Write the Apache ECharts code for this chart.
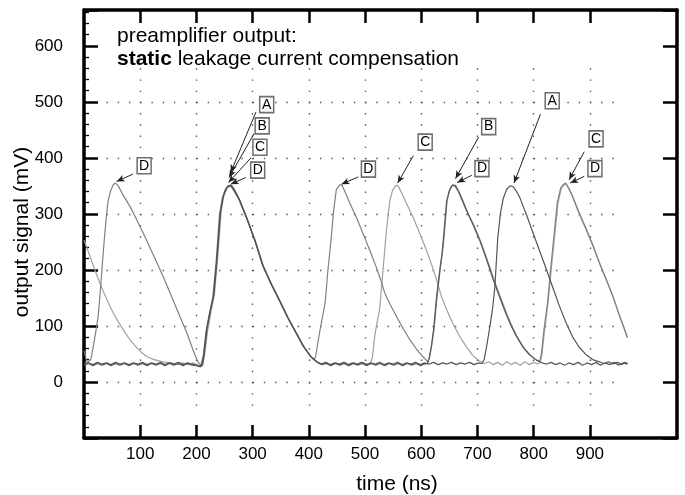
<!DOCTYPE html>
<html><head><meta charset="utf-8">
<script src="https://cdn.jsdelivr.net/npm/echarts@6/dist/echarts.min.js"></script>
<style>html,body{margin:0;padding:0;background:#fff}#c{width:685px;height:495px}</style>
</head><body><div id="c"></div>
<script>
// ---- data (time in ns, signal in mV) ----
const xTickLabels = [100, 200, 300, 400, 500, 600, 700, 800, 900];
const yTickLabels = [0, 100, 200, 300, 400, 500, 600];

const traceA = [[0,32],[8,34],[16,31],[24,35],[32,32],[40,34],[48,31],[56,35],[64,32],[72,34],[80,31],[88,34],[96,32],[104,35],[112,31],[120,34],[128,32],[136,35],[144,31],[152,34],[160,32],[168,35],[176,31],[184,34],[192,32],[200,30],[206,28],[210,32],
[213,48],[218,92],[224,124],[230,152],[236,216],[242,300],[247,330],[252,344],[257,350],[262,349],
[268,340],[276,326],[290,291],[304,253],[318,208],[333,175],[348,145],[363,114],[378,86],[390,64],[402,47],[414,36],[422,32],
[430,35],[438,31],[446,34],[454,32],[462,35],[470,31],[478,34],[486,32],[494,35],[502,31],[510,34],[518,32],[526,35],[534,31],[542,34],[550,32],[558,35],[566,31],[574,34],[582,32],[590,35],[598,31],[606,34],[614,32],[622,35],[630,31],[638,34],[646,32],[654,35],[662,31],[670,34],[678,32],[686,35],[694,31],[702,34],[708,33],
[712,40],[716,62],[722,98],[727,132],[731,170],[736,256],[741,302],[746,328],[752,344],[758,350],[763,349],
[769,341],[775,330],[787,299],[799,266],[811,233],[823,200],[835,166],[846,135],[858,105],[869,81],[881,62],[894,48],[905,40],[917,36],[925,33],[933,36],[941,32],[949,35],[957,31],[963,35],[967,33]];

const traceB = [[0,30],[8,33],[16,29],[24,33],[32,30],[40,33],[48,29],[56,33],[64,30],[72,33],[80,29],[88,33],[96,30],[104,33],[112,29],[120,33],[128,30],[136,33],[144,29],[152,33],[160,30],[168,33],[176,29],[184,33],[192,30],[200,29],[207,27],[211,30],
[214,50],[219,95],[225,128],[231,155],[237,222],[243,304],[248,332],[253,345],[258,351],[263,350],
[269,341],[277,325],[291,289],[305,250],[319,206],[334,173],[349,143],[364,112],[379,85],[391,63],[403,46],[415,35],[423,31],
[431,33],[439,29],[447,33],[455,30],[463,33],[471,29],[479,33],[487,30],[495,33],[503,29],[511,33],[519,30],[527,33],[535,29],[543,33],[551,30],[559,33],[567,29],[575,33],[583,30],[591,33],[599,29],[605,32],[611,33],
[614,42],[618,64],[622,94],[627,150],[633,200],[637,230],[640,262],[645,322],[650,342],[655,351],[660,350],
[666,340],[672,326],[680,307],[692,281],[704,253],[716,219],[728,183],[740,150],[751,121],[760,100],[769,82],[781,62],[793,48],[805,39],[815,34],
[823,32],[831,35],[839,31],[847,34],[855,30],[863,34],[871,31],[879,35],[887,30],[895,34],[903,31],[911,35],[919,30],[927,34],[935,31],[943,35],[951,30],[959,34],[967,32]];

const traceC = [[0,253],[5,240],[10,226],[15,212],[20,198],[28,177],[36,158],[44,140],[52,123],[60,109],[70,93],[82,75],[92,63],[102,53],[112,45],[125,40],[140,36],[155,34],[165,31],[175,34],[185,31],[195,34],[203,30],[210,29],
[214,45],[220,92],[226,126],[232,156],[238,225],[244,305],[249,333],[254,345],[259,350],[264,348],
[270,338],[278,322],[292,287],[306,248],[320,205],[335,172],[350,142],[365,111],[380,84],[392,62],[404,45],[416,35],[424,32],
[432,34],[440,30],[448,34],[456,31],[464,35],[472,30],[480,34],[488,31],[496,35],[504,31],[510,33],
[513,44],[517,80],[521,104],[526,130],[532,200],[538,270],[544,324],[549,342],[554,350],[558,351],
[565,338],[574,318],[586,293],[597,266],[609,236],[620,205],[628,180],[636,152],[646,127],[656,105],[668,82],[680,63],[692,47],[704,37],
[712,33],[720,36],[728,31],[736,35],[744,30],[752,36],[760,31],[768,35],[776,30],[784,36],[792,31],[800,35],[808,32],[812,36],
[815,50],[818,80],[822,112],[826,145],[831,198],[837,258],[843,318],[849,345],[854,352],[858,353],
[864,343],[869,331],[881,300],[894,270],[906,241],[917,212],[929,182],[941,152],[953,117],[960,98],[966,80]];

const traceD = [[0,56],[3,44],[6,35],[9,34],[12,40],[15,55],[18,72],[21,90],[25,116],[28,150],[31,188],[34,228],[37,265],[40,298],[43,324],[47,340],[52,352],[56,355],[61,350],
[70,333],[82,313],[96,285],[111,254],[126,221],[141,188],[156,152],[171,116],[183,88],[194,57],[200,42],[204,34],[208,30],
[212,46],[217,90],[223,122],[229,150],[235,214],[241,298],[246,328],[251,342],[256,350],[261,351],
[267,341],[275,327],[289,293],[303,255],[317,211],[332,177],[347,147],[362,116],[377,88],[389,66],[401,49],[409,39],
[412,45],[416,70],[420,93],[425,120],[429,141],[434,200],[440,259],[444,305],[449,344],[455,352],[459,351],
[466,336],[473,319],[485,293],[496,266],[508,236],[520,205],[528,182],[535,159],[545,138],[556,117],[568,95],[580,75],[592,58],[603,45],[612,36],
[615,45],[619,68],[623,96],[628,152],[634,204],[638,234],[641,264],[646,324],[651,344],[656,352],[661,351],
[668,338],[674,324],[682,304],[694,279],[706,250],[718,216],[730,181],[742,148],[753,119],[762,98],[771,80],[783,60],[795,47],[805,39],[811,37],
[814,52],[817,82],[821,114],[825,144],[830,200],[836,260],[842,320],[848,346],[853,353],[857,355],
[863,345],[869,332],[881,302],[894,272],[906,243],[917,213],[929,184],[941,153],[953,118],[960,99],[967,79]];

// annotation letters: box centre, arrow from -> to (data coords)
const annLetters = ['A','B','C','D','D','D','C','B','D','A','C','D'];
const annBoxes   = [[325,495],[317,457],[313,419],[309,378],[107,386],[506,380],[607,428],[720,456],[708,381],[833,502],[911,434],[909,381]];
const annFrom    = [[306,482],[303,444],[297,400],[288,365],[87,371],[488,366],[586,404],[702,437],[690,369],[812,478],[890,411],[890,367]];
const annTo      = [[261,374],[258,365],[257,356],[261,353],[58,358],[458,353],[558,355],[661,363],[664,356],[765,355],[863,361],[865,355]];

// ---- layout ----
const FONT = 'Liberation Sans, Arial, sans-serif';
const X_MIN = 0, X_MAX = 1055, Y_MIN = -100, Y_MAX = 664;
const G = {left: 84, top: 10, width: 593, height: 428};
const pxPerNs = G.width / (X_MAX - X_MIN);
const pxPerMv = G.height / (Y_MAX - Y_MIN);
const xPx = t => G.left + (t - X_MIN) * pxPerNs;
const yPx = v => G.top + (Y_MAX - v) * pxPerMv;

const frame = {show: true, onZero: false, lineStyle: {color: '#000', width: 3.5}};
const dotH = [1.4, 20 * pxPerNs - 1.4];
const dotV = [1.4, 20 * pxPerMv - 1.4];
const hidden = {axisLine: {show: false}, axisTick: {show: false}, axisLabel: {show: false}};

const chart = echarts.init(document.getElementById('c'), null, {renderer: 'canvas'});
chart.setOption({
  animation: false,
  backgroundColor: '#fff',
  title: [
    {text: 'preamplifier output:', left: 117, top: 26, padding: 0,
     textStyle: {fontFamily: FONT, fontSize: 21, fontWeight: 'normal', color: '#000'}},
    {text: '{b|static} leakage current compensation', left: 117, top: 49, padding: 0,
     textStyle: {fontFamily: FONT, fontSize: 21, fontWeight: 'normal', color: '#000',
       rich: {b: {fontFamily: FONT, fontSize: 21, fontWeight: 'bold', color: '#000'}}}}
  ],
  grid: [
    {left: G.left, top: G.top, width: G.width, height: G.height, outerBoundsMode: 'none'},
    {left: xPx(40), top: yPx(500), width: xPx(960) - xPx(40), height: yPx(-100) - yPx(500), outerBoundsMode: 'none'},
    {left: xPx(0), top: yPx(560), width: xPx(1000) - xPx(0), height: yPx(-60) - yPx(560), outerBoundsMode: 'none'}
  ],
  xAxis: [
    {gridIndex: 0, type: 'value', min: X_MIN, max: X_MAX, interval: 100, position: 'bottom',
     axisLine: frame,
     axisTick: {inside: true, length: 13, customValues: xTickLabels, lineStyle: {color: '#000', width: 2.5}},
     axisLabel: {customValues: xTickLabels, fontFamily: FONT, fontSize: 17, color: '#000', margin: 8},
     splitLine: {show: false}},
    {gridIndex: 0, type: 'value', min: X_MIN, max: X_MAX, interval: 100, position: 'top',
     axisLine: frame,
     axisTick: {inside: true, length: 13, customValues: xTickLabels, lineStyle: {color: '#000', width: 2.5}},
     axisLabel: {show: false}, splitLine: {show: false}},
    {gridIndex: 1, type: 'value', min: 40, max: 960, ...hidden, splitLine: {show: false}},
    {gridIndex: 2, type: 'value', min: 0, max: 1000, interval: 100, ...hidden,
     splitLine: {show: true, showMinLine: false, showMaxLine: false,
       lineStyle: {color: '#555', width: 1.4, type: dotV}}}
  ],
  yAxis: [
    {gridIndex: 0, type: 'value', min: Y_MIN, max: Y_MAX, interval: 100, position: 'left',
     axisLine: frame,
     axisTick: {inside: true, length: 14, lineStyle: {color: '#000', width: 2.5}},
     minorTick: {show: true, splitNumber: 5, length: 5, lineStyle: {color: '#000', width: 1.3}},
     axisLabel: {fontFamily: FONT, fontSize: 17, color: '#000', margin: 21,
       formatter: v => (yTickLabels.indexOf(v) >= 0 ? String(v) : '')},
     splitLine: {show: false}},
    {gridIndex: 0, type: 'value', min: Y_MIN, max: Y_MAX, interval: 100, position: 'right',
     axisLine: frame,
     axisTick: {inside: true, length: 14, lineStyle: {color: '#000', width: 2.5}},
     axisLabel: {show: false}, splitLine: {show: false}},
    {gridIndex: 1, type: 'value', min: -100, max: 500, interval: 100, ...hidden,
     splitLine: {show: true, showMinLine: false, showMaxLine: true,
       lineStyle: {color: '#555', width: 1.4, type: dotH}}},
    {gridIndex: 2, type: 'value', min: -60, max: 560, ...hidden, splitLine: {show: false}}
  ],
  series: [
    {name: 'C', type: 'line', data: traceC, showSymbol: false, symbol: 'none', z: 3,
     lineStyle: {color: '#a0a0a0', width: 1.2}},
    {name: 'D', type: 'line', data: traceD, showSymbol: false, symbol: 'none', z: 4,
     lineStyle: {color: '#808080', width: 1.2}},
    {name: 'B', type: 'line', data: traceB, showSymbol: false, symbol: 'none', z: 5,
     lineStyle: {color: '#5a5a5a', width: 1.2}},
    {name: 'A', type: 'line', data: traceA, showSymbol: false, symbol: 'none', z: 6,
     lineStyle: {color: '#555555', width: 1.2},
     markLine: {silent: true, symbol: ['none', 'arrow'], symbolSize: [5, 8], label: {show: false},
       lineStyle: {color: '#222', width: 1, type: 'solid'},
       data: annFrom.map((f, i) => [{coord: f}, {coord: annTo[i]}])},
     markPoint: {silent: true, symbol: 'rect', symbolSize: [14, 16],
       itemStyle: {color: '#fff', borderColor: '#6f6f6f', borderWidth: 1.6},
       label: {show: true, position: 'inside', color: '#000', fontFamily: FONT, fontSize: 14,
         formatter: p => p.name},
       data: annBoxes.map((b, i) => ({name: annLetters[i], coord: b}))}}
  ],
  graphic: [
    {type: 'text', x: 22, y: 232, rotation: Math.PI / 2, silent: true,
     style: {text: 'output signal (mV)', font: '21px ' + FONT, fill: '#000',
       textAlign: 'center', textVerticalAlign: 'middle', align: 'center', verticalAlign: 'middle'}},
    {type: 'text', x: 397, y: 484, silent: true,
     style: {text: 'time (ns)', font: '21px ' + FONT, fill: '#000',
       textAlign: 'center', textVerticalAlign: 'middle', align: 'center', verticalAlign: 'middle'}}
  ]
});
</script></body></html>
